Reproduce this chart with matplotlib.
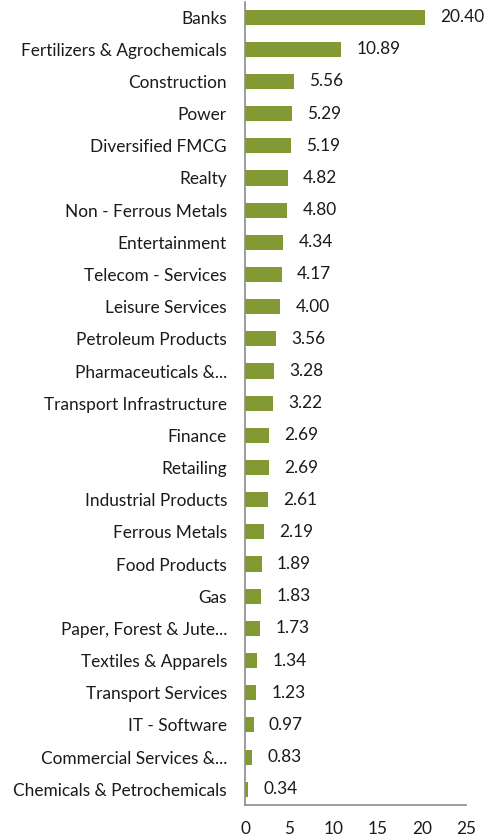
import matplotlib
matplotlib.use('Agg')
import matplotlib.pyplot as plt

plt.rcParams['font.family'] = ['Lato', 'DejaVu Sans']

sectors = ['Banks', 'Fertilizers & Agrochemicals', 'Construction', 'Power', 'Diversified FMCG',
           'Realty', 'Non - Ferrous Metals', 'Entertainment', 'Telecom - Services',
           'Leisure Services', 'Petroleum Products', 'Pharmaceuticals &...',
           'Transport Infrastructure', 'Finance', 'Retailing', 'Industrial Products',
           'Ferrous Metals', 'Food Products', 'Gas', 'Paper, Forest & Jute...',
           'Textiles & Apparels', 'Transport Services', 'IT - Software',
           'Commercial Services &...', 'Chemicals & Petrochemicals']
weights = [20.40, 10.89, 5.56, 5.29, 5.19, 4.82, 4.80, 4.34, 4.17, 4.00, 3.56, 3.28, 3.22,
           2.69, 2.69, 2.61, 2.19, 1.89, 1.83, 1.73, 1.34, 1.23, 0.97, 0.83, 0.34]
xticks = [0, 5, 10, 15, 20, 25]

fig = plt.figure(figsize=(4.99, 8.38), dpi=100)
ax = fig.add_axes([0.491, 0.039, 0.443, 0.9586])

fs = 12.4
ypos = list(range(len(sectors)))
ax.barh(ypos, weights, height=0.47, color='#839a34')
for y, v in zip(ypos, weights):
    ax.annotate(f'{v:.2f}', (v, y), xytext=(11, 0), textcoords='offset points',
                va='center', ha='left', fontsize=fs, color='#1a1a1a')

ax.set_yticks(ypos)
ax.set_yticklabels(sectors, fontsize=fs, color='#1a1a1a')
ax.set_xticks(xticks)
ax.set_xticklabels([str(t) for t in xticks], fontsize=fs, color='#1a1a1a')
ax.set_xlim(0, 25)
ax.set_ylim(24.5, -0.47)
ax.tick_params(axis='both', length=0)
ax.tick_params(axis='y', pad=13)
ax.tick_params(axis='x', pad=11)
for s in ['top', 'right']:
    ax.spines[s].set_visible(False)
for s in ['left', 'bottom']:
    ax.spines[s].set_color('#8c8c8c')
    ax.spines[s].set_linewidth(1.2)

fig.savefig('out.png', dpi=100)
